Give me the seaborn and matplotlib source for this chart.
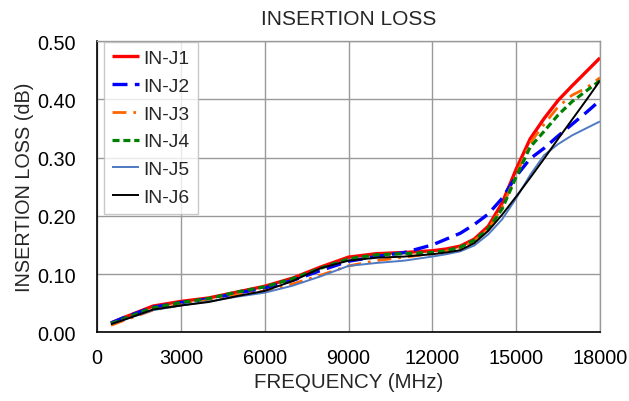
import matplotlib
matplotlib.use("Agg")
import matplotlib.pyplot as plt
import seaborn as sns
import pandas as pd

freq = [500, 1000, 2000, 3000, 4000, 5000, 6000, 7000, 8000, 9000, 10000, 11000, 12000,
        12500, 13000, 13500, 14000, 14500, 15000, 15500, 16000, 16500, 17000, 17500, 18000]

in_j1 = [0.016, 0.026, 0.045, 0.053, 0.059, 0.069, 0.079, 0.093, 0.112, 0.129, 0.135, 0.137, 0.140,
         0.143, 0.148, 0.160, 0.182, 0.222, 0.280, 0.332, 0.367, 0.398, 0.423, 0.447, 0.471]
in_j2 = [0.016, 0.026, 0.043, 0.051, 0.057, 0.067, 0.076, 0.089, 0.106, 0.122, 0.130, 0.137, 0.150,
         0.160, 0.170, 0.185, 0.203, 0.230, 0.268, 0.298, 0.316, 0.337, 0.357, 0.377, 0.398]
in_j3 = [0.012, 0.021, 0.038, 0.047, 0.055, 0.064, 0.071, 0.083, 0.098, 0.114, 0.123, 0.129, 0.135,
         0.139, 0.145, 0.157, 0.177, 0.215, 0.270, 0.325, 0.357, 0.387, 0.407, 0.419, 0.437]
in_j4 = [0.015, 0.024, 0.042, 0.051, 0.058, 0.069, 0.078, 0.092, 0.110, 0.126, 0.133, 0.135, 0.137,
         0.140, 0.146, 0.158, 0.177, 0.212, 0.267, 0.318, 0.345, 0.373, 0.396, 0.414, 0.432]
in_j5 = [0.014, 0.022, 0.038, 0.046, 0.053, 0.061, 0.068, 0.080, 0.096, 0.114, 0.119, 0.123, 0.130,
         0.134, 0.139, 0.149, 0.168, 0.194, 0.230, 0.270, 0.304, 0.323, 0.338, 0.350, 0.362]
in_j6 = [0.014, 0.022, 0.039, 0.046, 0.052, 0.062, 0.071, 0.088, 0.110, 0.123, 0.128, 0.130, 0.134,
         0.137, 0.141, 0.153, 0.174, 0.202, 0.233, 0.265, 0.298, 0.332, 0.365, 0.398, 0.432]

series_names = ["IN-J1", "IN-J2", "IN-J3", "IN-J4", "IN-J5", "IN-J6"]
series_vals = [in_j1, in_j2, in_j3, in_j4, in_j5, in_j6]

x_ticks = [0, 3000, 6000, 9000, 12000, 15000, 18000]
y_ticks = [0.0, 0.1, 0.2, 0.3, 0.4, 0.5]

rows = []
for name, vals in zip(series_names, series_vals):
    for f, v in zip(freq, vals):
        rows.append({"freq": f, "loss": v, "series": name})
df = pd.DataFrame(rows)

sns.set_style("white")
plt.rcParams['font.family'] = ['Liberation Sans', 'DejaVu Sans']

styles = {
    "IN-J1": dict(color="#FF0000", lw=2.4, dashes=None),
    "IN-J2": dict(color="#0000FF", lw=2.4, dashes=(4.5, 2.2)),
    "IN-J3": dict(color="#FF6600", lw=2.0, dashes=(5, 2.5, 1, 2.5)),
    "IN-J4": dict(color="#008000", lw=2.3, dashes=(2.2, 1.2)),
    "IN-J5": dict(color="#4F7AC2", lw=1.4, dashes=None),
    "IN-J6": dict(color="#000000", lw=1.4, dashes=None),
}

fig = plt.figure(figsize=(6.29, 4.02), dpi=100)
ax = fig.add_axes([97 / 629, 1 - 333.3 / 402, 503 / 629, 291.3 / 402])

for name in series_names:
    st = styles[name]
    sub = df[df["series"] == name]
    sns.lineplot(data=sub, x="freq", y="loss", ax=ax, color=st["color"],
                 linewidth=st["lw"], label=name)
    line = ax.get_lines()[-1]
    line.set_solid_capstyle("butt")
    line.set_solid_joinstyle("round")
    line.set_dash_joinstyle("round")
    if st["dashes"] is not None:
        line.set_dashes(st["dashes"])

ax.set_xlim(0, 18000)
ax.set_ylim(0, 0.5)
ax.set_xticks(x_ticks)
ax.set_yticks(y_ticks)
ax.set_yticklabels([f"{v:.2f}" for v in y_ticks])
ax.grid(True, color="#999999", linewidth=1.0)
ax.tick_params(axis="both", which="major", length=5, width=1, color="#999999",
               labelsize=14.3, labelcolor="black", direction="out")
ax.tick_params(axis="y", pad=10.5)
ax.tick_params(axis="x", pad=6)
for side in ["top", "right"]:
    ax.spines[side].set_color("#999999")
    ax.spines[side].set_linewidth(1.0)
for side in ["left", "bottom"]:
    ax.spines[side].set_color("black")
    ax.spines[side].set_linewidth(1.2)
ax.set_axisbelow(True)

ax.set_title("INSERTION LOSS", fontsize=15, pad=12)
ax.set_xlabel("FREQUENCY (MHz)", fontsize=14.8, labelpad=4)
ax.set_ylabel("INSERTION LOSS (dB)", fontsize=14.3, labelpad=2)

leg = ax.legend(loc="upper left", bbox_to_anchor=(7 / 503, 1 - 1 / 291.3), fontsize=13.9,
                frameon=True, fancybox=False, edgecolor="#BBBBBB",
                handlelength=1.4, handletextpad=0.25, labelspacing=0.53,
                borderpad=0.4, borderaxespad=0.0)
leg.get_frame().set_linewidth(1.0)

fig.savefig("out.png", dpi=100)
